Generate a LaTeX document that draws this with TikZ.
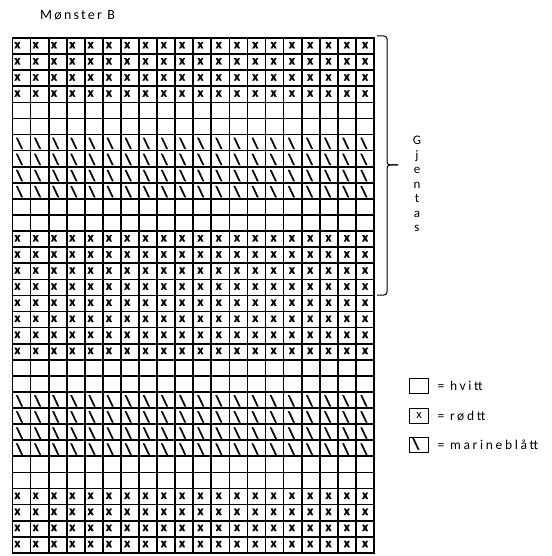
\documentclass[tikz,border=0pt]{standalone}
\usepackage{fontspec}
\setmainfont{Carlito}
\usetikzlibrary{positioning}

\begin{document}
\begin{tikzpicture}[
  x=1pt, y=-1pt,
  gridline/.style={line width=1.7pt, line cap=rect},
  xmark/.style={inner sep=0, font=\fontsize{13}{13}\selectfont\bfseries\addfontfeature{FakeBold=1.5}},
  slashmark/.style={inner sep=0, font=\fontsize{15}{15}\selectfont\bfseries\addfontfeature{FakeBold=2}},
  keybox/.style={draw, line width=1.7pt, minimum width=19pt, minimum height=15pt, inner sep=0, font=\fontsize{12.5}{12.5}\selectfont},
  keytext/.style={inner sep=0, font=\fontsize{13.5}{13.5}\selectfont\addfontfeature{LetterSpace=20}},
  bracket/.style={line width=1pt, rounded corners=3pt}]
\useasboundingbox (0,0) rectangle (551,556);
\node[keytext, anchor=base west, font=\fontsize{14}{14}\selectfont\addfontfeature{LetterSpace=16}] (title) at (40,20) {Mønster B};
% chart
\begin{scope}[shift={(12.5,38)}, x=18.075pt, y=-16.09pt]
  \foreach \c in {0,...,20} \draw[gridline] (\c,0) -- (\c,32);
  \foreach \r in {0,...,32} \draw[gridline] (0,\r) -- (20,\r);
  % red rows
  \foreach \r in {1,2,3,4,13,14,15,16,17,18,19,20,29,30,31,32}
    \foreach \c in {1,...,20}
      \node[xmark] (x-\r-\c) at ({(\c-1)*1.0125+0.27}, \r-0.55) {x};
  % navy rows
  \foreach \r in {7,8,9,10,23,24,25,26}
    \foreach \c in {1,...,20}
      \node[slashmark] (b-\r-\c) at ({(\c-1)*1.003+0.39}, \r-0.45) {\textbackslash};
\end{scope}
% repeat bracket
\draw[bracket] (377,36) -| (387,165) -- (398,165);
\draw[bracket] (398,165) -- (387,165) |- (377,295);
\node[keytext, align=center, font=\fontsize{13}{14.5}\selectfont] (repeat) at (417,184) {G\\j\\e\\n\\t\\a\\s};
% key
\node[keybox] (keywhite) at (419,386) {};
\node[keybox] (keyred) at (419,416) {x};
\node[keybox] (keyblue) at (419,445) {};
\node[slashmark] (keyblueslash) at ([xshift=-3pt,yshift=1pt]keyblue.center) {\textbackslash};
\node[keytext, right=8pt of keywhite] (whitetext) {= hvitt};
\node[keytext, right=8pt of keyred] (redtext) {= rødtt};
\node[keytext, right=8pt of keyblue] (bluetext) {= marineblått};
\end{tikzpicture}
\end{document}
